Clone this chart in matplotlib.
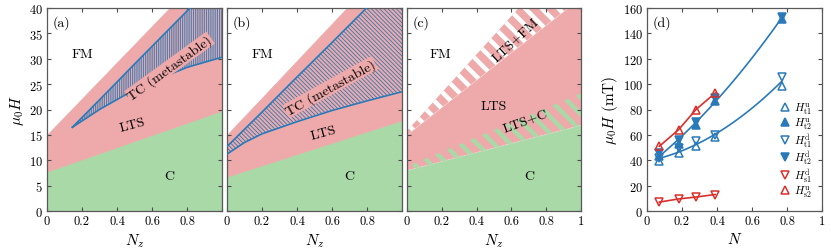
import matplotlib
matplotlib.use("Agg")
from matplotlib import pyplot as plt
from matplotlib.ticker import FuncFormatter
import numpy as np

plt.rcParams["font.family"] = "serif"
plt.rcParams["font.serif"] = ["cmr10", "DejaVu Serif"]
plt.rcParams["mathtext.fontset"] = "cm"
plt.rcParams["axes.unicode_minus"] = False
plt.rcParams["axes.formatter.use_mathtext"] = True

pink = "#eeaaab"
green = "#aad9a8"
blue = "#2a7ab9"
red = "#d9302c"

## (a) phase boundaries
nz_a = [0, 1]
c_a = [7.8, 19.8]
fm_a = [15.0, 50.7]
tc_nz_a = [0.145, 0.3, 0.53, 0.8, 1.0]
tc_lo_a = [16.5, 20.0, 24.5, 28.3, 30.3]
tc_hi_a = [16.5, 21.9, 30.0, 39.4, 46.4]

## (b) phase boundaries
nz_b = [0, 1]
c_b = [6.8, 17.9]
fm_b = [15.0, 51.5]
tc_nz_b = [0, 0.1, 0.2, 0.4, 0.6, 0.8, 1.0]
tc_lo_b = [11.2, 13.5, 15.2, 17.6, 19.8, 21.7, 23.5]
tc_hi_b = [12.7, 16.1, 19.5, 26.4, 33.2, 40.1, 46.9]

## (c) phase boundaries (mixed bands)
nz_c = [0, 1]
c_lo_c = [8.0, 16.9]
c_hi_c = [9.0, 23.4]
fm_lo_c = [15.0, 42.0]
fm_hi_c = [15.8, 53.5]

## (d) transition fields
n_blue = [0.07, 0.18, 0.28, 0.39, 0.77]
h_t1_u = [39.2, 45.5, 51.2, 58.6, 98.8]
h_t2_u = [43.0, 53.0, 68.0, 87.0, 151.0]
h_t1_d = [42.0, 50.0, 55.0, 60.0, 106.0]
h_t2_d = [46.0, 56.0, 70.0, 89.0, 153.0]
n_red = [0.07, 0.18, 0.28, 0.39]
h_s1_d = [7.0, 9.5, 11.0, 13.0]
h_s2_u = [51.0, 64.0, 80.0, 93.0]

fig = plt.figure(figsize=(8.31, 2.53), dpi=100)
W, H = 831, 253
bottom, top = 212, 9


def make_ax(x0, w):
    ax = fig.add_axes([x0 / W, (H - bottom) / H, w / W, (bottom - top) / H])
    ax.tick_params(direction="in", top=True, right=True, labelsize=9,
                   length=3, color="0.3", pad=3)
    for s in ax.spines.values():
        s.set_color("0.35")
        s.set_linewidth(0.9)
    return ax


fmt = FuncFormatter(lambda v, p: "%g" % round(v, 2))


def phase_axes(ax, label, show_one=False, ylab=False):
    ax.set_xlim(0, 1)
    ax.set_ylim(0, 40)
    ax.set_xticks([0, 0.2, 0.4, 0.6, 0.8, 1.0])
    ax.xaxis.set_major_formatter(
        FuncFormatter(lambda v, p: ("%g" % round(v, 2)) if (v < 0.99 or show_one) else ""))
    ax.set_yticks(range(0, 41, 5))
    if ylab:
        ax.set_ylabel(r"$\mu_0 H$", fontsize=11, labelpad=2)
    else:
        ax.set_yticklabels([])
    ax.set_xlabel(r"$N_z$", fontsize=11, labelpad=3)
    ax.text(0.03, 0.965, label, transform=ax.transAxes, fontsize=10, va="top")


def solid(ax, x, lo, hi, color):
    ax.fill_between(x, lo, hi, facecolor=color, edgecolor=color, lw=0.6)


def hatched(ax, x, lo, hi, face, hcolor, hatch, hlw, z=1):
    coll = ax.fill_between(x, lo, hi, facecolor=face, edgecolor=hcolor,
                           hatch=hatch, linewidth=0, zorder=z)
    coll.set_hatch_linewidth(hlw)
    return coll


# ---- panel (a)
ax = make_ax(47, 175)
phase_axes(ax, "(a)", ylab=True)
solid(ax, nz_a, 0, c_a, green)
solid(ax, nz_a, c_a, fm_a, pink)
hatched(ax, tc_nz_a, tc_lo_a, tc_hi_a, pink, blue, "|" * 9, 0.6, z=2)
ax.plot(tc_nz_a, tc_lo_a, color=blue, lw=1.2, zorder=3)
ax.plot(tc_nz_a, tc_hi_a, color=blue, lw=1.2, zorder=3)
ax.text(0.2, 30.9, "FM", fontsize=10, ha="center", va="center")
ax.text(0.70, 28.3, "TC (metastable)", fontsize=10, ha="center", va="center",
        rotation=36, bbox=dict(fc=pink, ec="none", pad=0.3), zorder=4)
ax.text(0.49, 17.1, "LTS", fontsize=10, ha="center", va="center", rotation=15)
ax.text(0.70, 7.0, "C", fontsize=10, ha="center", va="center")

# ---- panel (b)
ax = make_ax(227, 175)
phase_axes(ax, "(b)")
solid(ax, nz_b, 0, c_b, green)
solid(ax, nz_b, c_b, fm_b, pink)
hatched(ax, tc_nz_b, tc_lo_b, tc_hi_b, pink, blue, "\\" * 8, 0.6, z=2)
ax.plot(tc_nz_b, tc_lo_b, color=blue, lw=1.2, zorder=3)
ax.plot(tc_nz_b, tc_hi_b, color=blue, lw=1.2, zorder=3)
ax.text(0.2, 30.9, "FM", fontsize=10, ha="center", va="center")
ax.text(0.59, 24.4, "TC (metastable)", fontsize=10, ha="center", va="center",
        rotation=29, bbox=dict(fc=pink, ec="none", pad=0.3), zorder=4)
ax.text(0.55, 15.5, "LTS", fontsize=10, ha="center", va="center", rotation=15)
ax.text(0.70, 7.0, "C", fontsize=10, ha="center", va="center")

# ---- panel (c)
ax = make_ax(407, 174)
phase_axes(ax, "(c)", show_one=True)
solid(ax, nz_c, 0, c_lo_c, green)
hatched(ax, nz_c, c_lo_c, c_hi_c, pink, green, "\\\\", 3.2)
solid(ax, nz_c, c_hi_c, fm_lo_c, pink)
hatched(ax, nz_c, fm_lo_c, fm_hi_c, pink, "white", "\\\\", 3.2)
ax.text(0.19, 30.9, "FM", fontsize=10, ha="center", va="center")
ax.text(0.62, 33.9, "LTS+FM", fontsize=10, ha="center", va="center", rotation=43)
ax.text(0.50, 20.7, "LTS", fontsize=10, ha="center", va="center")
ax.text(0.68, 17.8, "LTS+C", fontsize=10, ha="center", va="center", rotation=20)
ax.text(0.70, 7.0, "C", fontsize=10, ha="center", va="center")

# ---- panel (d)
ax = make_ax(647, 175)
ax.set_xlim(0, 1)
ax.set_ylim(0, 160)
ax.set_xticks([0, 0.2, 0.4, 0.6, 0.8, 1.0])
ax.set_yticks(range(0, 161, 20))
ax.xaxis.set_major_formatter(fmt)
ax.set_xlabel(r"$N$", fontsize=11, labelpad=3)
ax.set_ylabel(r"$\mu_0 H$ (mT)", fontsize=11, labelpad=2)
ax.text(0.03, 0.965, "(d)", transform=ax.transAxes, fontsize=10, va="top")

nn = np.linspace(min(n_blue), max(n_blue), 100)
t1 = np.polyfit(n_blue + n_blue, h_t1_u + h_t1_d, 2)
t2 = np.polyfit(n_blue + n_blue, h_t2_u + h_t2_d, 2)
ax.plot(nn, np.polyval(t1, nn), color=blue, lw=1.2)
ax.plot(nn, np.polyval(t2, nn), color=blue, lw=1.2)
ax.plot(n_red, h_s1_d, color=red, lw=1.2)
ax.plot(n_red, h_s2_u, color=red, lw=1.2)

ms = 6
ax.plot(n_blue, h_t1_u, "^", ms=ms, mfc="none", mec=blue, mew=1.1, ls="none",
        label=r"$H^{\rm u}_{\rm t1}$")
ax.plot(n_blue, h_t2_u, "^", ms=ms, mfc=blue, mec=blue, mew=1.1, ls="none",
        label=r"$H^{\rm u}_{\rm t2}$")
ax.plot(n_blue, h_t1_d, "v", ms=ms, mfc="none", mec=blue, mew=1.1, ls="none",
        label=r"$H^{\rm d}_{\rm t1}$")
ax.plot(n_blue, h_t2_d, "v", ms=ms, mfc=blue, mec=blue, mew=1.1, ls="none",
        label=r"$H^{\rm d}_{\rm t2}$")
ax.plot(n_red, h_s1_d, "v", ms=ms, mfc="none", mec=red, mew=1.1, ls="none",
        label=r"$H^{\rm d}_{\rm s1}$")
ax.plot(n_red, h_s2_u, "^", ms=ms, mfc="none", mec=red, mew=1.1, ls="none",
        label=r"$H^{\rm u}_{\rm s2}$")
ax.legend(loc="lower left", bbox_to_anchor=(0.72, 0.02), frameon=False,
          fontsize=8, handlelength=0.8, handletextpad=0.4,
          labelspacing=0.0, borderaxespad=0.3)

fig.savefig("out.png", dpi=100)
